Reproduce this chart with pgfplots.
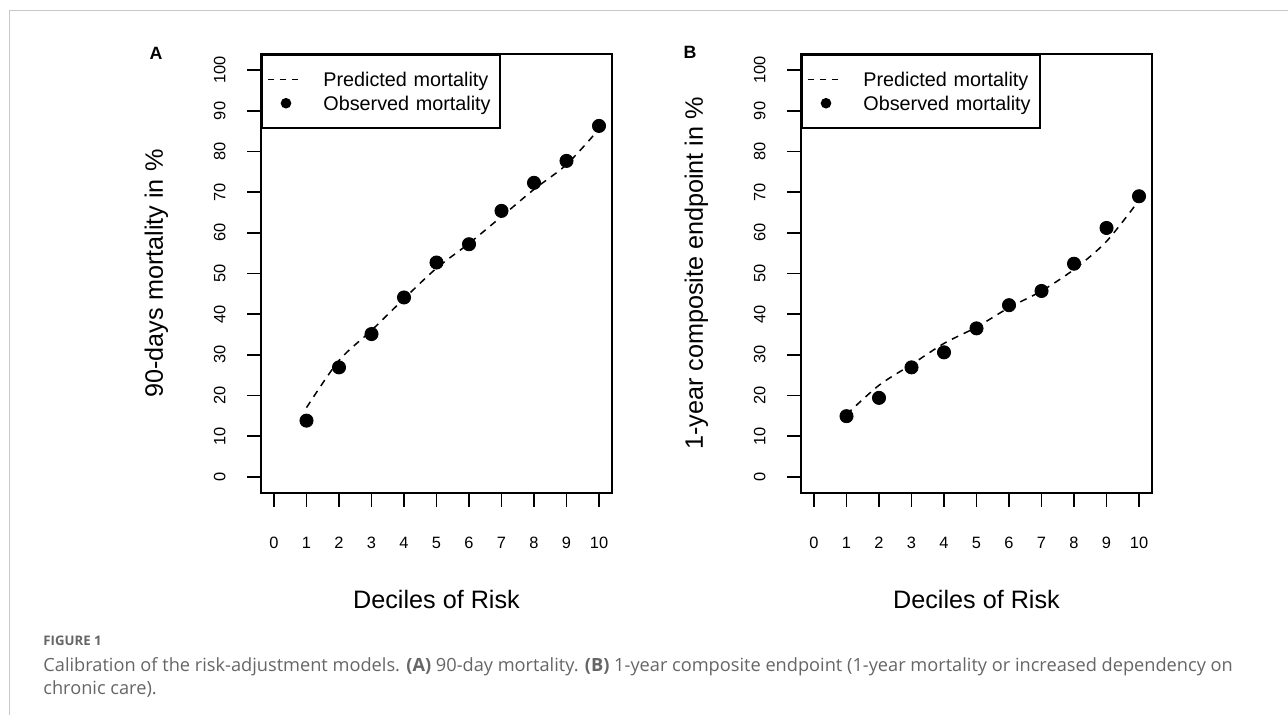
\documentclass[border=0pt]{standalone}
\usepackage{pgfplots}
\pgfplotsset{compat=1.18}
\usepackage{fontspec}
\setmainfont{Liberation Sans}
\newfontfamily\capfont{Open Sans}
\definecolor{capgray}{HTML}{666666}
\definecolor{framegray}{HTML}{C8C8C8}

\pgfplotstableread{
x obs pred
1 13.8 17.0
2 26.9 28.6
3 35.1 36.0
4 44.1 43.8
5 52.7 51.3
6 57.2 57.4
7 65.4 64.0
8 72.3 70.7
9 77.7 76.8
10 86.3 85.5
}\tableA
\pgfplotstableread{
x obs pred
1 14.9 15.3
2 19.4 22.5
3 26.9 27.6
4 30.6 32.8
5 36.5 36.8
6 42.2 41.6
7 45.7 45.7
8 52.4 51.0
9 61.2 57.9
10 69.0 68.0
}\tableB

\pgfplotsset{rstyle/.style={
  scale only axis, width=175.5pt, height=219.5pt,
  xmin=-0.4, xmax=10.4, ymin=-4, ymax=104,
  xtick={0,...,10}, ytick={0,10,...,100},
  tick align=outside, tick pos=left,
  major tick length=7pt,
  major tick style={line width=0.85pt, black},
  axis line style={line width=0.85pt},
  tick label style={font=\fontsize{8.2}{9}\selectfont},
  /pgf/number format/assume math mode=true,
  yticklabel style={rotate=90, anchor=south, inner sep=0pt},
  xticklabel style={anchor=north, inner sep=0pt},
  xticklabel shift=14.85pt, yticklabel shift=10.5pt,
  label style={font=\fontsize{12.6}{14}\selectfont},
  xlabel style={at={(axis description cs:0.5,-0.2437)}, anchor=center},
  ylabel style={at={(axis description cs:-0.298,0.5)}, anchor=center},
  legend cell align=left,
  legend style={at={(axis description cs:0,1)}, anchor=north west,
    draw=black, line width=0.85pt, inner xsep=2.5pt, inner ysep=7.9pt,
    row sep=2.65pt,
    font=\fontsize{9.9}{11}\selectfont,
    nodes={inner sep=0pt, text height=8.1pt, text depth=1pt, text width=85.85pt, align=left},
    /tikz/every odd column/.append style={column sep=12.5pt}},
}}

\begin{document}
\begin{tikzpicture}
\useasboundingbox (0,0) rectangle (644pt,357.5pt);
\fill[white] (0,0) rectangle (644pt,357.5pt);
\draw[framegray, line width=0.5pt] (4.6pt,0) -- (4.6pt,352pt) -- (644pt,352pt);

\begin{axis}[rstyle, at={(130.5pt,111pt)}, anchor=south west,
  xlabel={Deciles of Risk}, ylabel={90-days mortality in \%}]
\addplot[black, line width=0.75pt, dash pattern=on 3.5pt off 3pt, smooth, no markers,
  legend image code/.code={\draw[line width=0.75pt, dash pattern=on 3pt off 3pt] (0pt,0pt) -- (15pt,0pt);}]
  table[x=x, y=pred] {\tableA};
\addlegendentry{Predicted mortality}
\addplot[black, only marks, mark=*, mark size=3.3pt,
  legend image code/.code={\fill (9.2pt,0pt) circle (2.2pt);}]
  table[x=x, y=obs] {\tableA};
\addlegendentry{Observed mortality}
\end{axis}

\begin{axis}[rstyle, at={(400.5pt,111pt)}, anchor=south west,
  xlabel={Deciles of Risk}, ylabel={1-year composite endpoint in \%}]
\addplot[black, line width=0.75pt, dash pattern=on 3.5pt off 3pt, smooth, no markers,
  legend image code/.code={\draw[line width=0.75pt, dash pattern=on 3pt off 3pt] (0pt,0pt) -- (15pt,0pt);}]
  table[x=x, y=pred] {\tableB};
\addlegendentry{Predicted mortality}
\addplot[black, only marks, mark=*, mark size=3.3pt,
  legend image code/.code={\fill (9.2pt,0pt) circle (2.2pt);}]
  table[x=x, y=obs] {\tableB};
\addlegendentry{Observed mortality}
\end{axis}

\node[font=\bfseries\fontsize{8.9}{10}\selectfont] at (78pt,331pt) {A};
\node[font=\bfseries\fontsize{8.9}{10}\selectfont] at (345pt,331.5pt) {B};

\node[anchor=base west, inner sep=0pt, text=capgray, font=\capfont\bfseries\fontsize{6.6}{7}\selectfont] at (21.5pt,34.5pt) {FIGURE 1};
\node[anchor=base west, inner sep=0pt, text=capgray, font=\capfont\fontsize{9.1}{11.5}\selectfont] at (21.5pt,21.5pt)
  {Calibration of the risk-adjustment models. \textbf{(A)} 90-day mortality. \textbf{(B)} 1-year composite endpoint (1-year mortality or increased dependency on};
\node[anchor=base west, inner sep=0pt, text=capgray, font=\capfont\fontsize{9.1}{11.5}\selectfont] at (21.5pt,10pt)
  {chronic care).};
\end{tikzpicture}
\end{document}
